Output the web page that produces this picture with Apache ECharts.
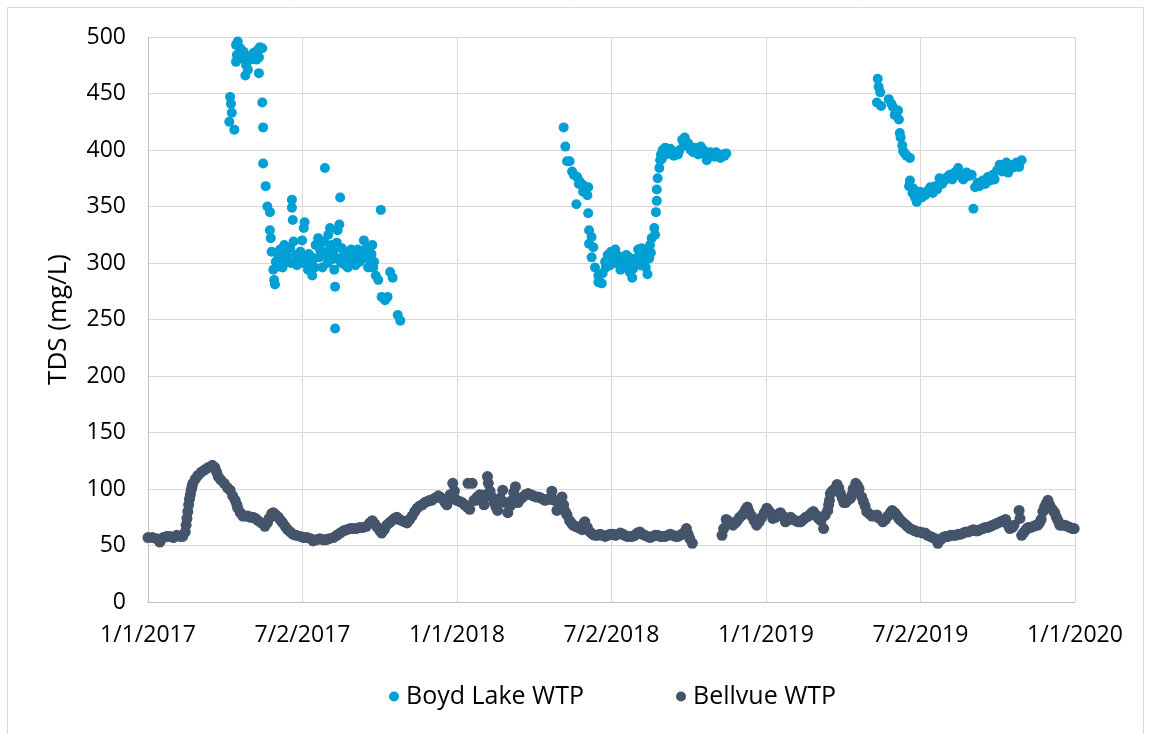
<!DOCTYPE html>
<html>
<head>
<meta charset="utf-8">
<script src="https://cdn.jsdelivr.net/npm/echarts@6/dist/echarts.min.js"></script>
<style>
html,body{margin:0;padding:0;background:#fff;}
#chart{width:1151px;height:734px;}
</style>
</head>
<body>
<div id="chart"></div>
<script>
// x values are days since 1/1/2017
const xTickLabels = ['1/1/2017','7/2/2017','1/1/2018','7/2/2018','1/1/2019','7/2/2019','1/1/2020'];
const yTickStep = 50;

const boyd2017 = [
[97,447],[98,441],[99,433],[96,425],[102,418],
[104,493],[106,496],[109,490],[105,484],[104,478],[111,481],[113,487],[116,475],[115,466],[118,471],
[120,480],[123,484],[125,486],[129,488],[132,491],[135,490],[131,482],[128,480],[131,468],
[135,442],[136,420],[136,388],[139,368],[141,350],[144,345],[144,329],[145,322],[146,310],[148,294],[149,285],[150,281],
[151,301],[154,307],[156,312],[158,304],[161,316],[163,310],[165,301],[168,313],[170,356],[170,349],[171,338],[172,319],
[175,307],[177,303],[180,310],[182,320],[184,331],[185,336],[187,303],[189,294],[191,301],[194,289],[196,304],[198,316],
[201,322],[203,312],[206,296],[208,319],[209,384],[210,307],[213,325],[215,331],[217,316],[220,294],[221,279],[221,242],
[222,304],[224,329],[226,334],[227,358],[229,313],[232,301],[234,307],[236,296],[239,307],[241,301],[243,310],[246,304],
[248,312],[250,301],[253,307],[255,320],[258,313],[260,296],[262,303],[265,316],[267,301],[269,289],[272,285],[275,347],
[276,270],[280,267],[283,270],[286,292],[289,287],[295,254],[298,249],
[155,297],[159,296],[164,306],[169,300],[176,298],[181,305],[183,300],[190,308],[193,305],[197,296],[202,305],[204,318],
[212,300],[214,312],[216,303],[219,310],[223,318],[228,300],[230,306],[233,298],[235,304],[237,302],[240,312],[245,298],
[247,305],[249,308],[252,310],[254,304],[257,309],[259,305],[261,310],[264,308],[266,296]
];

const boyd2018 = [
[491,420],[493,403],[495,390],[498,390],[501,381],[503,378],[507,376],[509,370],[510,372],[514,369],[517,366],[519,360],
[520,367],[514,363],[506,352],[520,344],[521,329],[524,323],[521,317],[526,314],[524,305],[528,296],[532,289],[532,283],
[536,282],[537,291],
[540,301],[541,296],[543,307],[546,298],[547,310],[548,304],[551,300],[552,312],[554,301],[556,306],[558,294],[559,300],
[560,304],[562,296],[563,303],[565,307],[566,296],[567,301],[568,305],[569,292],[572,287],[573,295],[574,298],[576,304],
[578,300],[579,312],[581,307],[582,298],[583,313],[586,301],[587,306],[588,296],[590,290],[591,310],[592,304],[593,316],
[594,309],[595,322],[598,331],[599,325],[600,345],[601,355],[601,365],[602,375],[604,384],[605,391],[606,396],[607,392],
[608,400],[611,402],[612,396],[614,398],[617,401],[619,397],[621,395],[624,398],[626,396],[628,400],[631,409],[633,404],
[634,411],[638,406],[640,403],[641,400],[644,398],[646,402],[648,400],[650,396],[652,398],[653,403],[656,400],[657,397],
[659,395],[660,391],[663,394],[664,398],[666,396],[669,394],[671,398],[673,396],[676,393],[678,396],[681,395],[683,397]
];

const boyd2019 = [
[862,463],[863,456],[865,451],[861,442],[866,439],[875,445],[878,441],[880,438],[882,431],[884,433],[886,435],[887,427],
[888,415],[889,411],[891,404],[892,399],[894,397],[896,395],[900,393],[899,368],[900,373],[903,362],[904,366],[906,358],
[907,360],[908,354],[909,356],
[912,363],[914,358],[918,360],[921,364],[924,367],[927,362],[930,368],[932,365],[935,375],[938,370],[941,373],[944,376],
[947,378],[950,374],[953,380],[957,384],[959,379],[961,376],[963,374],[967,380],[970,377],[973,378],[975,348],[977,367],
[980,371],[982,368],[986,373],[989,370],[992,376],[995,373],[998,378],[1000,374],[1003,382],[1006,387],[1009,381],
[1012,385],[1014,389],[1016,380],[1018,383],[1022,387],[1024,385],[1026,389],[1029,385],[1032,391]
];

const bellvue = [
[0,57],[5,57],[10,56],[14,53],[18,57],[22,58],[26,58],[30,57],[34,59],[38,58],[41,58],[44,62],[45,68],[46,74],[47,80],
[48,86],[49,91],[50,95],[51,99],[52,102],[53,105],
[56,109],[59,112],[63,115],[67,117],[71,119],[76,121],[79,119],[81,115],[83,111],[86,108],[90,105],[94,101],[97,99],[100,94],
[103,90],[105,86],[106,83],[109,79],[112,76],[115,76],[118,76],[121,75],[124,75],[127,74],[130,72],[134,70],[138,67],[141,70],
[143,74],[146,78],[148,79],[151,77],[154,75],[157,72],[159,70],[162,67],[165,64],[168,62],[171,60],[175,59],[180,58],
[184,57],[188,57],[192,56],[195,54],[199,55],[203,56],[207,55],[210,55],[214,56],[219,57],[223,59],[227,61],[231,63],
[235,64],[239,65],[242,65],[246,65],[250,66],[254,66],[258,67],[262,70],[265,72],[268,69],[271,66],[274,63],[276,61],
[279,64],[282,68],[285,70],[288,72],[291,74],[294,75],[297,73],[300,72],[303,71],[306,70],[309,73],[312,76],[315,80],
[318,83],[321,85],[324,86],[327,88],[330,89],[333,90],[335,90],[339,92],[343,94],[345,93],[348,91],[351,88],[353,86],
[355,90],[357,95],[360,105],[362,98],[365,90],[368,89],[371,88],[374,86],[377,84],[378,105],[380,82],[383,105],[385,90],
[387,90],[389,93],[392,95],[395,90],[397,86],[399,95],[401,111],[402,105],[404,98],[406,93],[409,88],[411,84],[413,81],[416,92],
[419,99],[422,88],[425,79],[428,85],[430,90],[432,97],[434,102],[437,88],[440,91],[443,93],[446,95],[449,96],[452,95],
[455,94],[458,93],[461,93],[464,92],[467,91],[469,90],[472,91],[475,91],[477,98],[480,90],[483,81],[486,88],[489,93],
[491,86],[493,80],[495,77],[498,72],[500,70],[502,68],[505,67],[508,66],[511,65],[513,64],[515,70],[516,71],[519,66],
[522,62],[525,60],[528,59],[531,59],[534,60],[537,59],[540,58],[543,59],[546,60],[549,60],[552,59],[555,60],[558,61],
[561,60],[563,59],[566,58],[569,58],[572,58],[575,59],[578,61],[581,62],[584,60],[587,59],[590,58],[593,57],[596,58],
[599,59],[602,59],[605,58],[608,58],[611,58],[614,59],[617,60],[620,59],[623,58],[626,58],[628,59],[631,60],[634,62],
[636,65],[638,60],[640,56],[643,52],
[678,59],[680,65],[683,73],[685,72],[687,70],[689,69],[691,68],[694,70],[696,72],[699,75],[702,77],[704,79],[706,82],
[708,84],[710,80],[713,76],[716,72],[719,68],[722,71],[725,75],[728,79],[731,83],[733,81],[735,79],[738,74],[741,75],
[743,76],[745,78],[747,79],[750,76],[753,71],[756,73],[759,75],[762,73],[765,72],[768,71],[771,71],[774,73],[777,75],
[780,76],[782,77],[784,79],[786,80],[789,77],[792,74],[795,72],[798,65],[800,77],[803,81],[804,86],[805,90],[806,96],[808,98],
[811,100],[814,104],[816,101],[818,96],[820,92],[822,88],[824,88],[826,90],[828,91],[830,92],[832,96],[833,100],[836,105],
[838,103],[840,100],[843,93],[845,89],[847,85],[849,80],[852,78],[855,76],[858,76],[861,77],[864,74],[868,71],[871,73],
[874,76],[877,79],[879,81],[882,79],[884,77],[886,75],[888,73],[891,71],[894,69],[897,67],[900,65],[903,64],[906,63],
[909,62],[912,62],[915,61],[918,61],[921,59],[924,58],[927,57],[930,56],[933,52],[936,55],[939,57],[942,58],[945,58],
[948,59],[951,59],[954,59],[957,60],[960,60],[963,61],[966,62],[969,62],[972,63],[975,64],[978,63],[980,63],[983,64],
[986,65],[989,66],[992,66],[995,67],[998,68],[1001,69],[1004,70],[1007,71],[1010,72],[1013,73],[1016,68],[1018,65],
[1021,66],[1023,68],[1029,81],[1030,74],[1032,59],[1034,61],[1036,63],[1038,65],[1040,66],[1043,66],[1046,67],[1049,68],
[1051,68],[1053,70],[1055,73],[1057,80],[1059,84],[1061,87],[1063,90],[1065,86],[1067,83],[1069,81],[1071,79],[1073,75],
[1075,72],[1077,68],[1080,68],[1083,68],[1086,67],[1089,66],[1092,65],[1094,65]
];

const boydAll = boyd2017.concat(boyd2018, boyd2019);

const chart = echarts.init(document.getElementById('chart'), null, {renderer: 'canvas'});
const fontFam = '"Open Sans", sans-serif';
chart.setOption({
  animation: false,
  backgroundColor: '#ffffff',
  graphic: [{
    type: 'rect',
    shape: {x: 7.5, y: 7.5, width: 1136, height: 760},
    style: {fill: 'none', stroke: '#d9d9d9', lineWidth: 1},
    silent: true, z: -10
  }],
  grid: {left: 148, right: 76, top: 37, bottom: 132, containLabel: false},
  legend: {
    top: 679, left: 384,
    itemWidth: 10, itemHeight: 10, itemGap: 92,
    icon: 'circle',
    textStyle: {fontFamily: fontFam, fontSize: 25, color: '#000000', padding: [0,0,0,2]},
    data: ['Boyd Lake WTP', 'Bellvue WTP']
  },
  xAxis: {
    type: 'value', min: 0, max: 1095, interval: 182.5,
    axisLine: {show: true, lineStyle: {color: '#bfbfbf', width: 1}},
    axisTick: {show: false},
    splitLine: {show: true, lineStyle: {color: '#d9d9d9', width: 1}},
    axisLabel: {
      margin: 22, fontFamily: fontFam, fontSize: 23, color: '#000000',
      formatter: function (v) { const i = Math.round(v / 182.5); return xTickLabels[i] || ''; }
    }
  },
  yAxis: {
    type: 'value', min: 0, max: 500, interval: yTickStep,
    name: 'TDS (mg/L)', nameLocation: 'middle', nameGap: 76, nameRotate: 90,
    nameTextStyle: {fontFamily: fontFam, fontSize: 26, color: '#000000'},
    axisLine: {show: true, lineStyle: {color: '#bfbfbf', width: 1}},
    axisTick: {show: false},
    splitLine: {show: true, lineStyle: {color: '#d9d9d9', width: 1}},
    axisLabel: {margin: 22, fontFamily: fontFam, fontSize: 23, color: '#000000'}
  },
  series: [
    {
      name: 'Boyd Lake WTP', type: 'scatter', data: boydAll,
      symbol: 'circle', symbolSize: 10,
      itemStyle: {color: '#009fd4', opacity: 1}
    },
    {
      name: 'Bellvue WTP', type: 'scatter', data: bellvue,
      symbol: 'circle', symbolSize: 11,
      itemStyle: {color: '#44546a', opacity: 1}
    }
  ]
});
</script>
</body>
</html>
